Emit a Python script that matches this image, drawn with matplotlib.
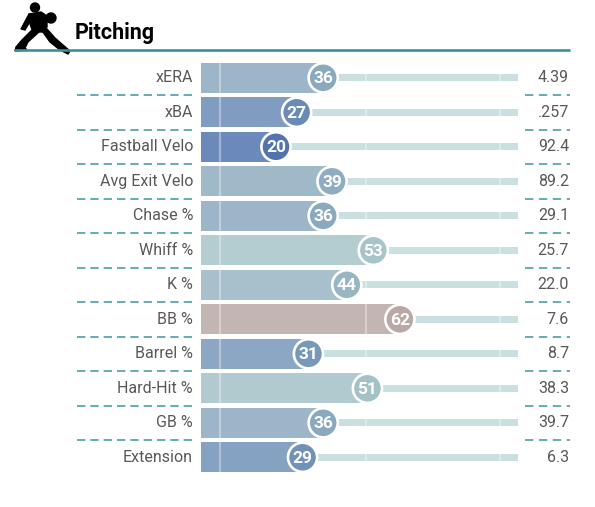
import numpy as np
import matplotlib
matplotlib.use("Agg")
import matplotlib.pyplot as plt
from matplotlib.colors import LinearSegmentedColormap, to_rgb
from matplotlib.patches import Polygon, Circle

plt.rcParams['font.family'] = ['Roboto', 'DejaVu Sans']
plt.rcParams['lines.scale_dashes'] = False

# data
metrics = ['xERA', 'xBA', 'Fastball Velo', 'Avg Exit Velo', 'Chase %', 'Whiff %',
           'K %', 'BB %', 'Barrel %', 'Hard-Hit %', 'GB %', 'Extension']
percentiles = [36, 27, 20, 39, 36, 53, 44, 62, 31, 51, 36, 29]
values = ['4.39', '.257', '92.4', '89.2', '29.1', '25.7', '22.0', '7.6', '8.7', '38.3', '39.7', '6.3']

# percentile colour scale (blue = poor, red = great)
cmap = LinearSegmentedColormap.from_list('savant', [
    (0.00, '#325aa8'), (0.20, '#5174af'), (0.36, '#8aa8be'),
    (0.53, '#a7c4c8'), (0.62, '#b9a8a3'), (1.00, '#d8222b')])


def bar_color(p, alpha=0.85):
    c = np.array(to_rgb(cmap(p / 100)))
    return tuple(c * alpha + (1 - alpha))


W, H = 595, 507
fig = plt.figure(figsize=(W / 100, H / 100), dpi=100)

# axes in percentile units (x) and row units (y)
PX0, PX_PER = 217, 2.95
ROW0, ROW_PITCH = 77.8, 34.5
ax = fig.add_axes([0, 0, 1, 1])
ax.set_xlim(-PX0 / PX_PER, (W - PX0) / PX_PER)
ax.set_ylim((H - ROW0) / ROW_PITCH, -ROW0 / ROW_PITCH)
ax.axis('off')

rows = np.arange(len(metrics))
pct = np.array(percentiles)
BAR_START = (201 - PX0) / PX_PER
TRACK_END = (518 - PX0) / PX_PER
LABEL_X = (193 - PX0) / PX_PER
VALUE_X = (569 - PX0) / PX_PER

# track behind the bubble
ax.barh(rows, TRACK_END - pct, left=pct, height=0.21, color='#c9dfe0', zorder=1)
# filled bar
ax.barh(rows, pct - BAR_START, left=BAR_START, height=0.87,
        color=[bar_color(p) for p in pct], zorder=2)
# faint guide lines
for g in [1, 50.5, 96]:
    ax.vlines(np.full(len(rows), g), rows - 0.435, rows + 0.435,
              color='white', alpha=0.35, lw=1.6, zorder=3)
# bubbles
ax.scatter(pct, rows, s=440, c=[cmap(p / 100) for p in pct],
           edgecolors='white', linewidths=1.9, zorder=4)
for r, p in zip(rows, pct):
    ax.text(p, r + 0.03, str(p), ha='center', va='center', color='white',
            fontsize=12.5, fontweight='bold', zorder=5)

for r, lab, v in zip(rows, metrics, values):
    ax.text(LABEL_X, r, lab, ha='right', va='center', fontsize=11.5, color='#585858')
    ax.text(VALUE_X, r, v, ha='right', va='center', fontsize=11.5, color='#585858')

# dashed separators
for r in rows[:-1]:
    y = r + 0.5
    ax.plot([(77 - PX0) / PX_PER, LABEL_X], [y, y], color='#4a9ea6', lw=1.2,
            dashes=(6, 3.6))
    ax.plot([(525 - PX0) / PX_PER, VALUE_X + 0.3], [y, y], color='#4a9ea6', lw=1.2,
            dashes=(6, 4))

# header: title, rule and pitcher icon in pixel space
hx = fig.add_axes([0, 0, 1, 1])
hx.set_xlim(0, W)
hx.set_ylim(H, 0)
hx.axis('off')
hx.plot([14, 570], [49.5, 49.5], color='#35939b', lw=1.9, solid_capstyle='butt')
hx.text(75, 39, 'Pitching', fontsize=15.5, fontweight='bold', color='black', va='baseline')

icon = [
    [(29, 14), (41, 12), (47, 16), (47, 27), (44, 32), (33, 32), (30, 24)],
    [(29, 14), (32, 18), (25, 30), (21, 29)],
    [(33, 29), (40, 31), (28, 42), (25, 48), (27, 50), (15, 51), (16, 47), (22, 40)],
    [(40, 28), (47, 29), (55, 38), (63, 45), (70, 51), (68, 54), (60, 50), (50, 42)],
]
for pts in icon:
    hx.add_patch(Polygon(pts, closed=True, color='black'))
hx.add_patch(Circle((35, 7.5), 4.5, color='black'))
hx.add_patch(Circle((51, 18), 5, color='black'))

fig.savefig('out.png', dpi=100)
